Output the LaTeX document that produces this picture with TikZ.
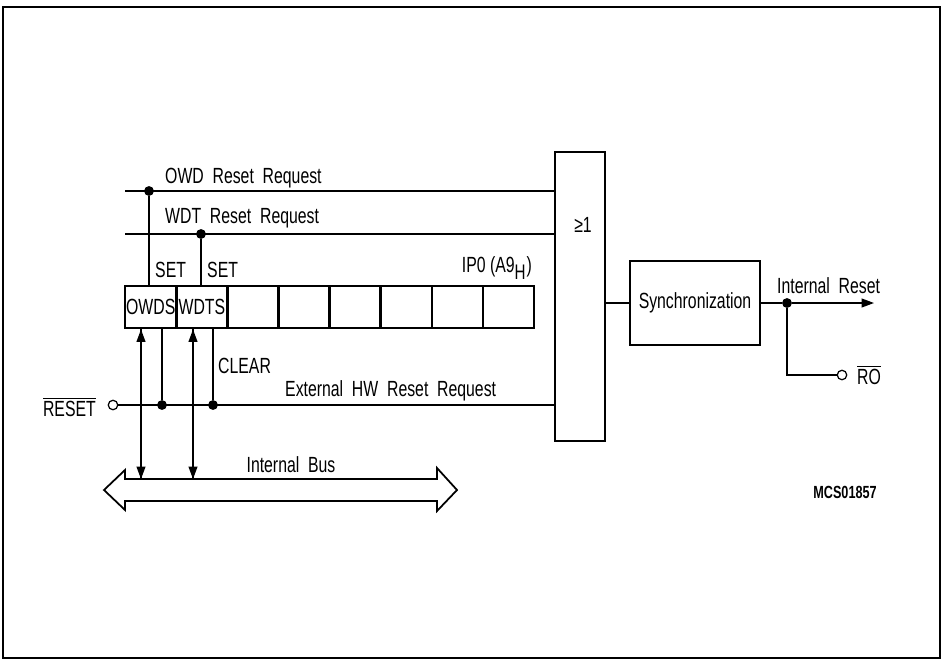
\documentclass[tikz,border=0pt]{standalone}
\usepackage{fontspec}
\setmainfont{Liberation Sans}[FakeStretch=0.72]
\usetikzlibrary{positioning,arrows.meta}

\tikzset{
  wire/.style={line width=0.8pt},
  box/.style={draw, line width=1.4pt, inner sep=0pt},
  cell/.style={box, anchor=north west, minimum width=1.022cm, minimum height=0.84cm},
  dot/.style={circle, fill, inner sep=0pt, minimum size=5.6pt},
  pin/.style={circle, draw, fill=white, line width=0.7pt, inner sep=0pt, minimum size=5.4pt},
  bustip/.style={-{Triangle[length=7pt,width=5pt]}},
}

\begin{document}
\begin{tikzpicture}[x=0.02cm, y=-0.02cm, every node/.style={font=\fontsize{12.5}{14}\selectfont}]
    \useasboundingbox (0,0) rectangle (943,663);
    \draw[line width=0.6pt] (3,7) rectangle (940,658);

    % register IP0
    \foreach \i in {1,...,8}{
        \node[cell] (c\i) at ({124+51.1*(\i-1)},285) {};
    }
    \node at (c1) {OWDS};
    \node at (c2) {WDTS};
    \node[anchor=east] (ipname) at (538,268) {IP0 (A9\textsubscript{\large H})};

    % gate and synchronization
    \node[box, minimum width=1cm, minimum height=5.78cm] (gate) at (580,296.5) {};
    \node (ge) at (583,225) {≥1};
    \node[box, minimum width=2.6cm, minimum height=1.68cm] (sync) at (695,303) {Synchronization};

    % request lines
    \coordinate (owdin) at (125,191);
    \coordinate (wdtin) at (125,234);
    \node[pin] (rst) at (113,405) {};
    \draw[wire] (owdin) -- (owdin -| gate.west);
    \draw[wire] (wdtin) -- (wdtin -| gate.west);
    \draw[wire] (rst) -- (rst -| gate.west);
    \node[anchor=west] (owdlbl) at (159,178) {OWD\ \ Reset\ \ Request};
    \node[anchor=west] (wdtlbl) at (159,218) {WDT\ \ Reset\ \ Request};
    \node[anchor=west] (hwlbl) at (279,391) {External\ \ HW\ \ Reset\ \ Request};
    \node[anchor=east] (rstlbl) at (102,407) {$\overline{\mbox{RESET}}$};

    % set / clear taps
    \node[dot] (j1) at (149,191) {};
    \node[dot] (j2) at (201,234) {};
    \node[dot] (j3) at (162,405) {};
    \node[dot] (j4) at (213,405) {};
    \draw[wire] (j1) -- (j1 |- c1.north);
    \draw[wire] (j2) -- (j2 |- c2.north);
    \draw[wire] (j3) -- (j3 |- c1.south);
    \draw[wire] (j4) -- (j4 |- c2.south);
    \node[anchor=west] (set1) at (149,270) {SET};
    \node[anchor=west] (set2) at (201,270) {SET};
    \node[anchor=west] (clr) at (212,366) {CLEAR};

    % internal bus
    \draw[line width=1pt, line join=miter]
        (104,490) -- (125,470) -- (125,479) -- (437,479) -- (437,468) -- (457,490)
        -- (437,511) -- (437,501) -- (125,501) -- (125,510) -- cycle;
    \node (buslbl) at (291,465) {Internal\ \ Bus};
    \coordinate (b1) at (141,479);
    \coordinate (b2) at (193,479);
    \draw[wire, bustip] (b1 |- c1.south) -- (b1);
    \draw[wire, bustip] (b1) -- (b1 |- c1.south);
    \draw[wire, bustip] (b2 |- c2.south) -- (b2);
    \draw[wire, bustip] (b2) -- (b2 |- c2.south);

    % output side
    \draw[wire] (gate.east |- sync.west) -- (sync.west);
    \coordinate (out) at (874,303);
    \node[dot] (j5) at (787,303) {};
    \draw[wire] (sync.east) -- (j5);
    \draw[wire, bustip] (j5) -- (out);
    \node[anchor=west] (intlbl) at (771,286) {Internal\ \ Reset};
    \node[pin] (ro) at (842,375) {};
    \draw[wire] (j5) |- (ro);
    \node[anchor=west] (rolbl) at (851,375) {$\overline{\mbox{RO}}$};

    \node (fig) at (845,492) {\fontsize{10}{11}\selectfont\bfseries MCS01857};
\end{tikzpicture}
\end{document}
